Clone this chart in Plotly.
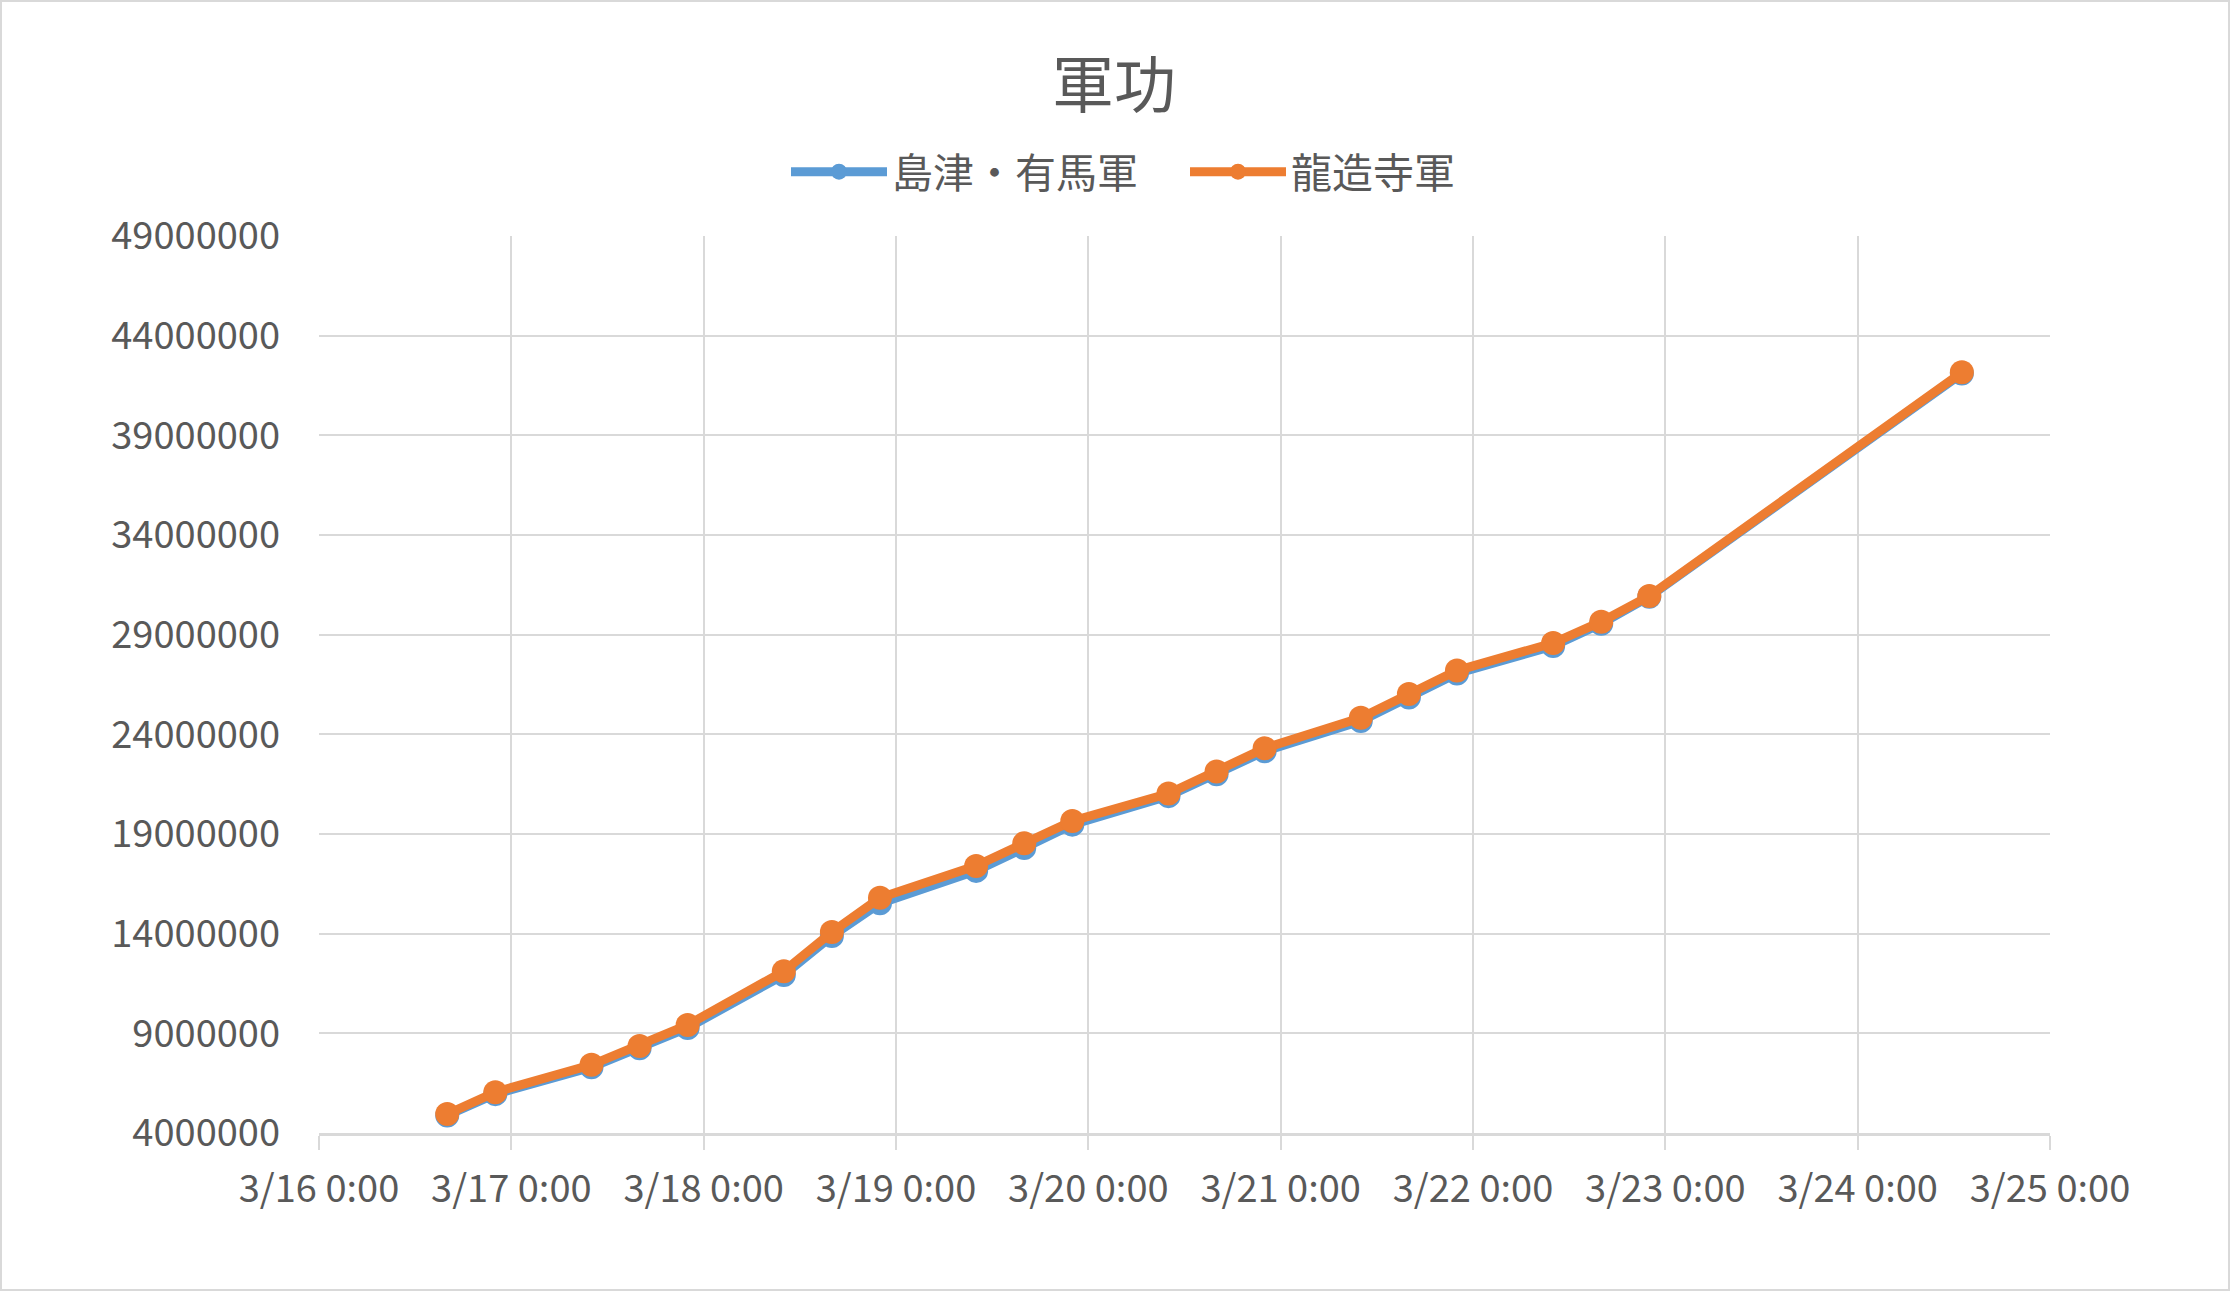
import plotly.graph_objects as go

times = [
    "2021-03-16 16:00", "2021-03-16 22:00", "2021-03-17 10:00", "2021-03-17 16:00",
    "2021-03-17 22:00", "2021-03-18 10:00", "2021-03-18 16:00", "2021-03-18 22:00",
    "2021-03-19 10:00", "2021-03-19 16:00", "2021-03-19 22:00", "2021-03-20 10:00",
    "2021-03-20 16:00", "2021-03-20 22:00", "2021-03-21 10:00", "2021-03-21 16:00",
    "2021-03-21 22:00", "2021-03-22 10:00", "2021-03-22 16:00", "2021-03-22 22:00",
    "2021-03-24 13:00",
]
shimazu = [4880000, 5950000, 7300000, 8250000, 9270000, 11930000, 13880000, 15520000,
           17150000, 18300000, 19470000, 20900000, 22000000, 23150000, 24670000, 25850000,
           27050000, 28430000, 29550000, 30900000, 42100000]
ryuzoji = [4950000, 6050000, 7420000, 8370000, 9420000, 12120000, 14080000, 15800000,
           17400000, 18530000, 19650000, 21030000, 22130000, 23300000, 24830000, 26020000,
           27200000, 28580000, 29650000, 30940000, 42160000]
names = ["島津・有馬軍", "龍造寺軍"]
title_text = "軍功"

W, H = 2231, 1292
L, R, T, B = 319, 2050, 236, 1133
FONT = "Noto Sans CJK JP, Noto Sans, sans-serif"
GREY = "#595959"
GRID = "#d9d9d9"

fig = go.Figure()
fig.add_trace(go.Scatter(x=times, y=shimazu, name=names[0], mode="lines+markers",
                         line=dict(color="#5B9BD5", width=9),
                         marker=dict(size=24, color="#5B9BD5")))
fig.add_trace(go.Scatter(x=times, y=ryuzoji, name=names[1], mode="lines+markers",
                         line=dict(color="#ED7D31", width=9),
                         marker=dict(size=24, color="#ED7D31")))

pw, ph = R - L, B - T
fig.add_shape(type="rect", xref="paper", yref="paper",
              x0=(1 - L) / pw, x1=(W - 2 - L) / pw,
              y0=(B - (H - 2)) / ph, y1=(B - 1) / ph,
              line=dict(color=GRID, width=2), fillcolor="rgba(0,0,0,0)", layer="below")

fig.update_layout(
    width=W, height=H,
    margin=dict(l=L, r=W - R, t=T, b=H - B, pad=0),
    paper_bgcolor="white", plot_bgcolor="white",
    font=dict(family=FONT, color=GREY, size=38),
    title=dict(text=title_text, x=1114 / W, y=1 - 86 / H, xanchor="center", yanchor="middle",
               xref="container", yref="container",
               font=dict(size=62, color=GREY, family=FONT)),
    legend=dict(orientation="h", x=(1185 - L) / pw, y=(B - 172) / ph,
                xanchor="center", yanchor="middle", itemwidth=96, entrywidth=288,
                font=dict(size=41, color=GREY, family=FONT), bgcolor="rgba(0,0,0,0)"),
    showlegend=True,
    xaxis=dict(type="date", range=["2021-03-16", "2021-03-25"], dtick=86400000,
               tick0="2021-03-16", tickformat="%-m/%-d %-H:%M",
               showgrid=True, gridcolor=GRID, gridwidth=2,
               showline=True, linecolor=GRID, linewidth=3,
               ticks="outside", ticklen=14, tickwidth=2, tickcolor=GRID,
               ticklabelstandoff=6,
               tickfont=dict(size=38, color=GREY, family=FONT), zeroline=False),
    yaxis=dict(range=[4000000, 49000000], dtick=5000000, tick0=4000000,
               tickformat="d", showgrid=True, gridcolor=GRID, gridwidth=2,
               showline=False, ticks="", ticklabelstandoff=38,
               tickfont=dict(size=38, color=GREY, family=FONT), zeroline=False),
)

fig.write_html("out.html", config={"displayModeBar": False},
               post_script="document.body.style.margin='0';")
